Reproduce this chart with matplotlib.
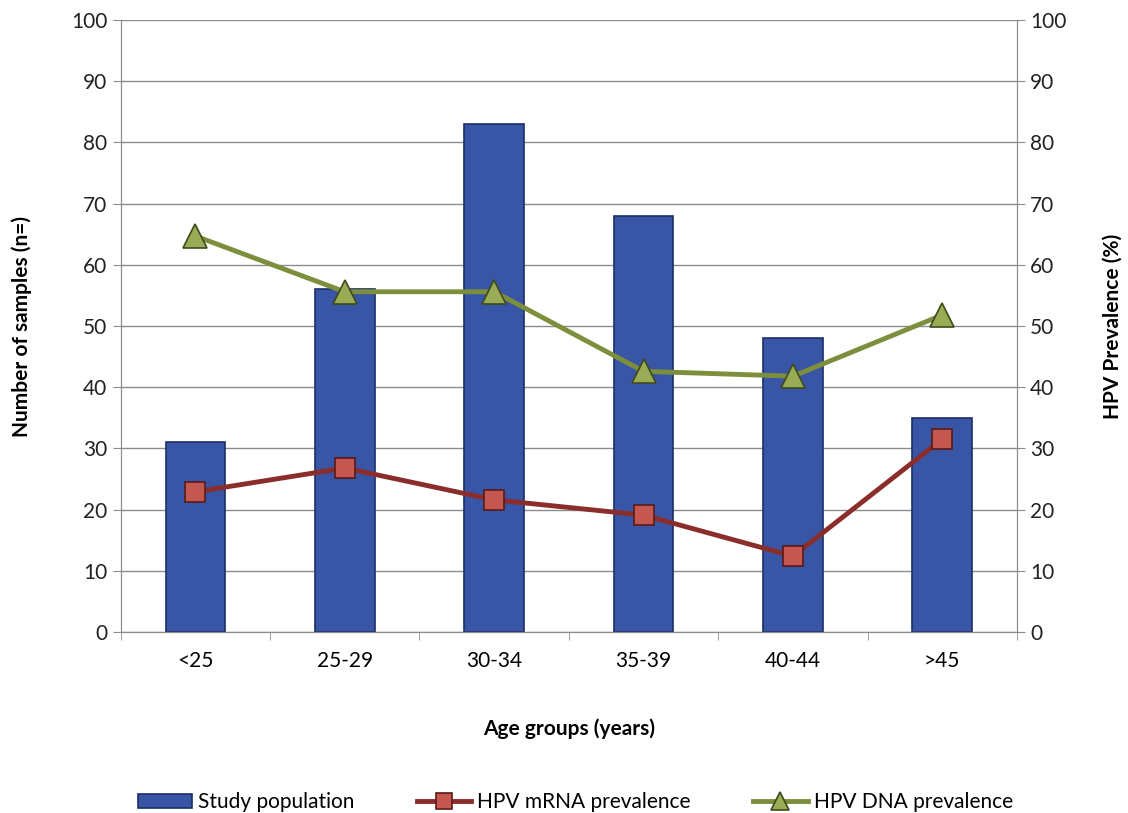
import matplotlib.pyplot as plt
import numpy as np

plt.rcParams['font.family'] = ['Lato', 'DejaVu Sans']

age_groups = ['<25', '25-29', '30-34', '35-39', '40-44', '>45']
study_population = [31, 56, 83, 68, 48, 35]
mrna_prevalence = [22.9, 26.8, 21.6, 19.1, 12.4, 31.5]
dna_prevalence = [64.7, 55.6, 55.6, 42.6, 41.8, 51.8]

x = np.arange(len(age_groups))

fig = plt.figure(figsize=(11.28, 8.13), dpi=100)
ax = fig.add_axes([0.107, 0.2226, 0.7946, 0.7528])
ax2 = ax.twinx()

grid_col = '#8c8c8c'
ax.set_axisbelow(True)
ax.yaxis.grid(True, color=grid_col, linewidth=1.0)

bars = ax.bar(x, study_population, width=0.4, color='#3855a6', edgecolor='#1c2f66',
              linewidth=1.2, label='Study population', zorder=2)

l1, = ax2.plot(x, mrna_prevalence, color='#8b2e2b', linewidth=3.5, marker='s', markersize=15,
               markerfacecolor='#c4574f', markeredgecolor='#5a1a16', markeredgewidth=1.2,
               label='HPV mRNA prevalence', zorder=3)
l2, = ax2.plot(x, dna_prevalence, color='#7d8f3c', linewidth=3.5, marker='^', markersize=17,
               markerfacecolor='#9aab55', markeredgecolor='#3f4a1a', markeredgewidth=1.2,
               label='HPV DNA prevalence', zorder=3)

for a in (ax, ax2):
    a.set_ylim(0, 100)
    a.set_yticks(np.arange(0, 101, 10))
    a.set_xlim(-0.5, len(age_groups) - 0.5)
    a.spines['top'].set_visible(False)
    for s in ('left', 'right', 'bottom'):
        a.spines[s].set_color(grid_col)
    a.tick_params(axis='y', labelsize=15, colors='#222222', length=6, color=grid_col)

ax.set_xticks(x)
ax.set_xticklabels(age_groups, fontsize=15)
ax.set_xticks(np.arange(-0.5, len(age_groups), 1), minor=True)
ax.tick_params(axis='x', which='major', length=0, pad=14, labelsize=15)
ax.tick_params(axis='x', which='minor', length=6, color=grid_col)

ax.set_ylabel('Number of samples (n=)', fontsize=15, fontweight='bold', labelpad=28)
ax2.set_ylabel('HPV Prevalence (%)', fontsize=15, fontweight='bold', labelpad=26)
ax.set_xlabel('Age groups (years)', fontsize=15, fontweight='bold', labelpad=34)

fig.legend(handles=[bars, l1, l2], loc='lower center', ncol=3, frameon=False,
           fontsize=15, bbox_to_anchor=(0.51, -0.022), columnspacing=3.0,
           handlelength=2.6, handletextpad=0.3, markerscale=0.8)

fig.savefig('out.png', dpi=100)
